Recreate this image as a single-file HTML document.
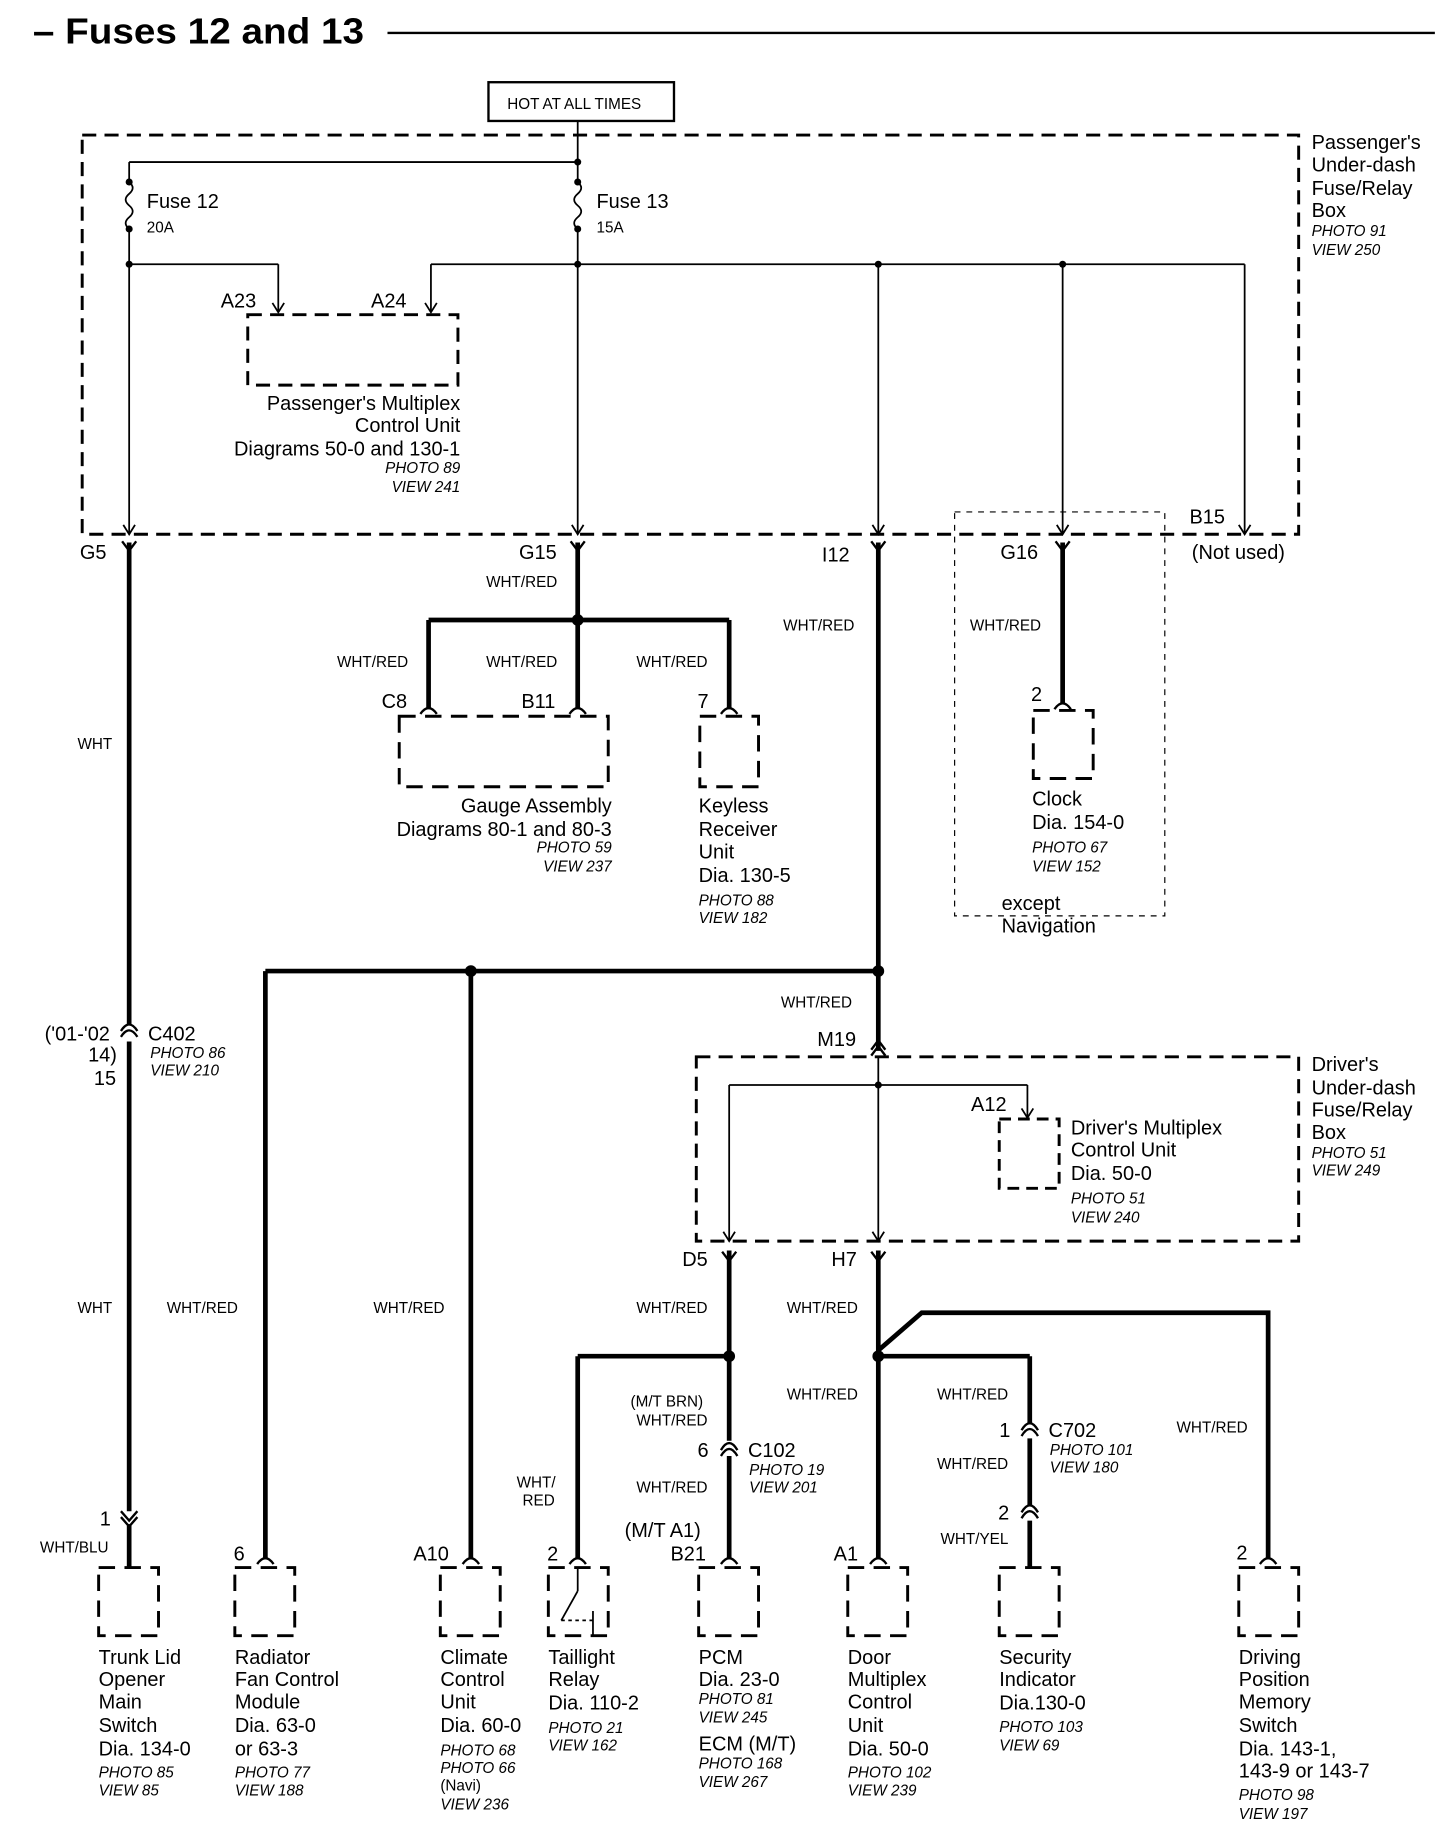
<!DOCTYPE html>
<html><head><meta charset="utf-8"><style>
html,body{margin:0;padding:0;background:#fff}
svg{display:block}
text{font-family:"Liberation Sans",sans-serif;fill:#000}
.l{font-size:17px}
.s{font-size:13px}
.i{font-size:13px;font-style:italic}
.w{font-size:13px}
</style></head><body>
<svg width="1456" height="1840" viewBox="0 0 1240 1567" xmlns="http://www.w3.org/2000/svg">
<g stroke="#000" fill="none">
<line x1="330" y1="28" x2="1222" y2="28" stroke-width="2"/>
<rect x="416" y="70" width="158" height="33" stroke-width="2"/>
<rect x="70" y="115" width="1036" height="340" stroke-width="2.5" stroke-dasharray="12,7"/>
<g stroke-width="1.5">
<line x1="492" y1="103" x2="492" y2="155"/>
<line x1="110" y1="138" x2="492" y2="138"/>
<line x1="110" y1="138" x2="110" y2="155"/>
<path d="M110 155 q6 5 0 10 q-6 5 0 10 q6 5 0 10 q-6 5 0 10"/>
<path d="M492 155 q6 5 0 10 q-6 5 0 10 q6 5 0 10 q-6 5 0 10"/>
<line x1="110" y1="195" x2="110" y2="455"/>
<line x1="492" y1="195" x2="492" y2="455"/>
<line x1="110" y1="225" x2="237" y2="225"/>
<line x1="237" y1="225" x2="237" y2="265"/>
<line x1="367" y1="225" x2="1060" y2="225"/>
<line x1="367" y1="225" x2="367" y2="265"/>
<line x1="748" y1="225" x2="748" y2="455"/>
<line x1="905" y1="225" x2="905" y2="455"/>
<line x1="1060" y1="225" x2="1060" y2="455"/>
<path d="M232 258 L237 266 L242 258 M362 258 L367 266 L372 258"/>
<path d="M105 447 L110 455 L115 447 M487 447 L492 455 L497 447 M743 447 L748 455 L753 447 M900 447 L905 455 L910 447 M1055 447 L1060 455 L1065 447"/>
</g>
<g fill="#000" stroke="none">
<circle cx="492" cy="138" r="3"/><circle cx="110" cy="155" r="3"/><circle cx="110" cy="195" r="3"/><circle cx="492" cy="155" r="3"/><circle cx="492" cy="195" r="3"/>
<circle cx="110" cy="225" r="3"/><circle cx="492" cy="225" r="3"/><circle cx="748" cy="225" r="3"/><circle cx="905" cy="225" r="3"/>
</g>
<rect x="211" y="268" width="179" height="60" stroke-width="2.5" stroke-dasharray="12,7"/>
<rect x="813" y="436" width="179" height="344" stroke-width="1" stroke-dasharray="5,5"/>
<g stroke-width="2">
<path d="M104 461 L110 469 L116 461 M486 461 L492 469 L498 461 M742 461 L748 469 L754 461 M899 461 L905 469 L911 461"/>
</g>
<g stroke-width="4">
<line x1="110" y1="462" x2="110" y2="873"/>
<line x1="110" y1="887" x2="110" y2="1287"/>
<line x1="110" y1="1298" x2="110" y2="1335"/>
<line x1="492" y1="462" x2="492" y2="528"/>
<line x1="365" y1="528" x2="621" y2="528"/>
<line x1="365" y1="528" x2="365" y2="604"/>
<line x1="492" y1="528" x2="492" y2="604"/>
<line x1="621" y1="528" x2="621" y2="604"/>
<line x1="905" y1="462" x2="905" y2="600"/>
<line x1="748" y1="462" x2="748" y2="895"/>
<line x1="226" y1="827" x2="748" y2="827"/>
<line x1="226" y1="827" x2="226" y2="1328"/>
<line x1="401" y1="827" x2="401" y2="1328"/>
<line x1="621" y1="1065" x2="621" y2="1227"/>
<line x1="621" y1="1240" x2="621" y2="1328"/>
<line x1="748" y1="1065" x2="748" y2="1328"/>
<line x1="492" y1="1155" x2="621" y2="1155"/>
<line x1="492" y1="1155" x2="492" y2="1328"/>
<line x1="748" y1="1155" x2="877" y2="1155"/>
<line x1="877" y1="1155" x2="877" y2="1213"/>
<line x1="877" y1="1225" x2="877" y2="1283"/>
<line x1="877" y1="1295" x2="877" y2="1335"/>
<polyline points="748,1150 785,1118 1080,1118 1080,1328"/>
</g>
<g fill="#000" stroke="none">
<circle cx="492" cy="528" r="5"/><circle cx="748" cy="827" r="5"/><circle cx="401" cy="827" r="5"/>
<circle cx="621" cy="1155" r="5"/><circle cx="748" cy="1155" r="5"/>
</g>
<g stroke-width="2">
<path d="M103 883 Q110 872 117 883 M103 878 Q110 867 117 878"/>
<path d="M103 1287 L110 1295 L117 1287 M103 1292 L110 1300 L117 1292"/>
<path d="M614 1240 Q621 1228 628 1240 M614 1235 Q621 1223 628 1235"/>
<path d="M870 1223 Q877 1211 884 1223 M870 1218 Q877 1206 884 1218"/>
<path d="M870 1293 Q877 1281 884 1293 M870 1288 Q877 1276 884 1288"/>
<path d="M742 899 L748 891 L754 899 M742 894 L748 886 L754 894"/>
<path d="M615 1066 L621 1074 L627 1066 M742 1066 L748 1074 L754 1066"/>
</g>
<g stroke-width="2">
<path d="M358 608 Q365 598 372 608 M485 608 Q492 598 499 608 M614 608 Q621 598 628 608 M898 604 Q905 594 912 604"/>
<path d="M219 1332 Q226 1322 233 1332 M394 1332 Q401 1322 408 1332 M485 1332 Q492 1322 499 1332 M614 1332 Q621 1322 628 1332 M741 1332 Q748 1322 755 1332 M1073 1332 Q1080 1322 1087 1332"/>
</g>
<rect x="593" y="900" width="513" height="157" stroke-width="2.5" stroke-dasharray="12,7"/>
<g stroke-width="1.5">
<line x1="748" y1="900" x2="748" y2="1057"/>
<line x1="621" y1="924" x2="875" y2="924"/>
<line x1="621" y1="924" x2="621" y2="1057"/>
<line x1="875" y1="924" x2="875" y2="952"/>
<path d="M870 944 L875 952 L880 944 M616 1049 L621 1057 L626 1049 M743 1049 L748 1057 L753 1049"/>
</g>
<circle cx="748" cy="924" r="3" fill="#000" stroke="none"/>
<rect x="851" y="953" width="51" height="59" stroke-width="2.5" stroke-dasharray="10,6"/>
<g stroke-width="2.5" stroke-dasharray="14,8">
<rect x="340" y="610" width="178" height="60"/>
<rect x="596" y="610" width="50" height="60"/>
<rect x="880" y="605" width="51" height="58"/>
<rect x="84" y="1335" width="51" height="58"/>
<rect x="200" y="1335" width="51" height="58"/>
<rect x="375" y="1335" width="51" height="58"/>
<rect x="467" y="1335" width="51" height="58"/>
<rect x="595" y="1335" width="51" height="58"/>
<rect x="722" y="1335" width="51" height="58"/>
<rect x="851" y="1335" width="51" height="58"/>
<rect x="1055" y="1335" width="51" height="58"/>
</g>
<g stroke-width="1.5">
<line x1="492" y1="1335" x2="492" y2="1355"/>
<line x1="492" y1="1355" x2="478" y2="1380"/>
<line x1="478" y1="1380" x2="505" y2="1380" stroke-dasharray="3,3"/>
<line x1="505" y1="1372" x2="505" y2="1393"/>
</g>
</g>

<text x="28" y="37" style="font-size:31px;font-weight:bold" textLength="282" lengthAdjust="spacingAndGlyphs">– Fuses 12 and 13</text>
<text x="432" y="93" class="s">HOT AT ALL TIMES</text>
<g class="l">
<text x="1117" y="127">Passenger's</text><text x="1117" y="146">Under-dash</text><text x="1117" y="166">Fuse/Relay</text><text x="1117" y="185">Box</text>
<text x="125" y="177">Fuse 12</text><text x="508" y="177">Fuse 13</text>
<text x="188" y="262">A23</text><text x="316" y="262">A24</text>
<text x="392" y="349" text-anchor="end">Passenger's Multiplex</text>
<text x="392" y="368" text-anchor="end">Control Unit</text>
<text x="392" y="388" text-anchor="end">Diagrams 50-0 and 130-1</text>
<text x="68" y="476">G5</text><text x="442" y="476">G15</text><text x="700" y="478">I12</text><text x="852" y="476">G16</text>
<text x="1013" y="446">B15</text><text x="1015" y="476">(Not used)</text>
<text x="325" y="603">C8</text><text x="444" y="603">B11</text><text x="594" y="603">7</text><text x="878" y="597">2</text>
<text x="521" y="692" text-anchor="end">Gauge Assembly</text>
<text x="521" y="712" text-anchor="end">Diagrams 80-1 and 80-3</text>
<text x="595" y="692">Keyless</text><text x="595" y="712">Receiver</text><text x="595" y="731">Unit</text><text x="595" y="751">Dia.  130-5</text>
<text x="879" y="686">Clock</text><text x="879" y="706">Dia.  154-0</text>
<text x="853" y="775">except</text><text x="853" y="794">Navigation</text>
<text x="38" y="886">('01-'02</text><text x="75" y="904">14)</text><text x="80" y="924">15</text><text x="126" y="886">C402</text>
<text x="696" y="891">M19</text>
<text x="1117" y="912">Driver's</text><text x="1117" y="932">Under-dash</text><text x="1117" y="951">Fuse/Relay</text><text x="1117" y="970">Box</text>
<text x="827" y="946">A12</text>
<text x="912" y="966">Driver's Multiplex</text><text x="912" y="985">Control Unit</text><text x="912" y="1005">Dia.  50-0</text>
<text x="581" y="1078">D5</text><text x="708" y="1078">H7</text>
<text x="594" y="1241">6</text><text x="637" y="1241">C102</text>
<text x="851" y="1224">1</text><text x="893" y="1224">C702</text><text x="850" y="1294">2</text>
<text x="85" y="1299">1</text>
<text x="532" y="1309">(M/T A1)</text>
<text x="199" y="1329">6</text><text x="352" y="1329">A10</text><text x="466" y="1329">2</text><text x="571" y="1329">B21</text><text x="710" y="1329">A1</text><text x="1053" y="1328">2</text>
<text x="84" y="1417">Trunk Lid</text><text x="84" y="1436">Opener</text><text x="84" y="1455">Main</text><text x="84" y="1475">Switch</text><text x="84" y="1495">Dia.  134-0</text>
<text x="200" y="1417">Radiator</text><text x="200" y="1436">Fan Control</text><text x="200" y="1455">Module</text><text x="200" y="1475">Dia.   63-0</text><text x="200" y="1495">or 63-3</text>
<text x="375" y="1417">Climate</text><text x="375" y="1436">Control</text><text x="375" y="1455">Unit</text><text x="375" y="1475">Dia. 60-0</text>
<text x="467" y="1417">Taillight</text><text x="467" y="1436">Relay</text><text x="467" y="1456">Dia.  110-2</text>
<text x="595" y="1417">PCM</text><text x="595" y="1436">Dia.  23-0</text><text x="595" y="1491">ECM (M/T)</text>
<text x="722" y="1417">Door</text><text x="722" y="1436">Multiplex</text><text x="722" y="1455">Control</text><text x="722" y="1475">Unit</text><text x="722" y="1495">Dia.  50-0</text>
<text x="851" y="1417">Security</text><text x="851" y="1436">Indicator</text><text x="851" y="1456">Dia.130-0</text>
<text x="1055" y="1417">Driving</text><text x="1055" y="1436">Position</text><text x="1055" y="1455">Memory</text><text x="1055" y="1475">Switch</text><text x="1055" y="1495">Dia.  143-1,</text><text x="1055" y="1514">143-9 or 143-7</text>
</g>
<g class="i">
<text x="1117" y="201">PHOTO 91</text><text x="1117" y="217">VIEW 250</text>
<text x="392" y="403" text-anchor="end">PHOTO 89</text><text x="392" y="419" text-anchor="end">VIEW 241</text>
<text x="521" y="726" text-anchor="end">PHOTO 59</text><text x="521" y="742" text-anchor="end">VIEW 237</text>
<text x="595" y="771">PHOTO 88</text><text x="595" y="786">VIEW 182</text>
<text x="879" y="726">PHOTO 67</text><text x="879" y="742">VIEW 152</text>
<text x="128" y="901">PHOTO 86</text><text x="128" y="916">VIEW 210</text>
<text x="1117" y="986">PHOTO 51</text><text x="1117" y="1001">VIEW 249</text>
<text x="912" y="1025">PHOTO 51</text><text x="912" y="1041">VIEW 240</text>
<text x="638" y="1256">PHOTO 19</text><text x="638" y="1271">VIEW 201</text>
<text x="894" y="1239">PHOTO 101</text><text x="894" y="1254">VIEW 180</text>
<text x="84" y="1514">PHOTO 85</text><text x="84" y="1529">VIEW 85</text>
<text x="200" y="1514">PHOTO 77</text><text x="200" y="1529">VIEW 188</text>
<text x="375" y="1495">PHOTO 68</text><text x="375" y="1510">PHOTO 66</text><text x="375" y="1525" style="font-style:normal">(Navi)</text><text x="375" y="1541">VIEW 236</text>
<text x="467" y="1476">PHOTO 21</text><text x="467" y="1491">VIEW 162</text>
<text x="595" y="1451">PHOTO 81</text><text x="595" y="1467">VIEW 245</text>
<text x="595" y="1506">PHOTO 168</text><text x="595" y="1522">VIEW 267</text>
<text x="722" y="1514">PHOTO 102</text><text x="722" y="1529">VIEW 239</text>
<text x="851" y="1475">PHOTO 103</text><text x="851" y="1491">VIEW 69</text>
<text x="1055" y="1533">PHOTO 98</text><text x="1055" y="1549">VIEW 197</text>
</g>
<g class="s">
<text x="125" y="198">20A</text><text x="508" y="198">15A</text>
<text x="414" y="500">WHT/RED</text>
<text x="287" y="568">WHT/RED</text><text x="414" y="568">WHT/RED</text><text x="542" y="568">WHT/RED</text>
<text x="667" y="537">WHT/RED</text><text x="826" y="537">WHT/RED</text>
<text x="66" y="638">WHT</text>
<text x="665" y="858">WHT/RED</text>
<text x="66" y="1118">WHT</text><text x="142" y="1118">WHT/RED</text><text x="318" y="1118">WHT/RED</text><text x="542" y="1118">WHT/RED</text><text x="670" y="1118">WHT/RED</text>
<text x="537" y="1198">(M/T  BRN)</text><text x="542" y="1214">WHT/RED</text>
<text x="670" y="1192">WHT/RED</text><text x="798" y="1192">WHT/RED</text><text x="798" y="1251">WHT/RED</text>
<text x="1002" y="1220">WHT/RED</text>
<text x="440" y="1267">WHT/</text><text x="445" y="1282">RED</text>
<text x="542" y="1271">WHT/RED</text>
<text x="801" y="1315">WHT/YEL</text>
<text x="34" y="1322">WHT/BLU</text>
</g>
</svg>
</body></html>
